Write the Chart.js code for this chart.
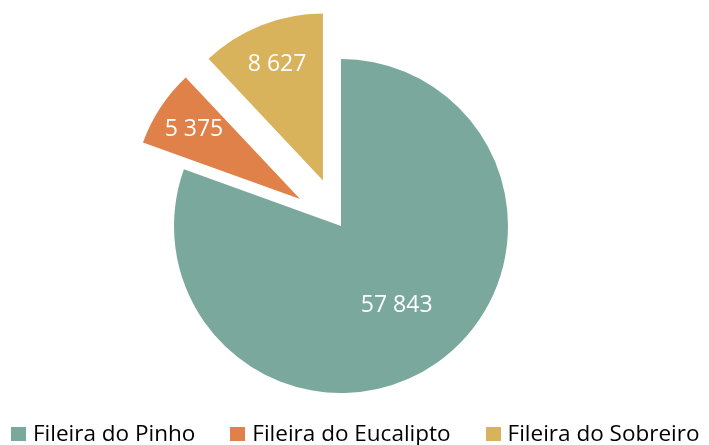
<!DOCTYPE html>
<html lang="pt">
<head>
<meta charset="utf-8">
<script src="https://cdn.jsdelivr.net/npm/chart.js@4.4.1/dist/chart.umd.min.js"></script>
<style>
  body { margin: 0; background: #fff; }
  #wrap { position: relative; width: 709px; height: 445px; }
  #legenda {
    position: absolute; left: 11px; top: 422px; height: 23px;
    display: flex; align-items: center; gap: 35px;
    font-family: "Open Sans", sans-serif; font-size: 22.5px; line-height: 1; color: #000;
  }
  .item { display: flex; align-items: center; white-space: nowrap; }
  .caixa { width: 15px; height: 14px; margin-right: 7px; }
</style>
</head>
<body>
<div id="wrap">
  <canvas id="grafico" width="709" height="445"></canvas>
  <div id="legenda"></div>
</div>
<script>
// dados
const categorias = ['Fileira do Pinho', 'Fileira do Eucalipto', 'Fileira do Sobreiro'];
const valores = [57843, 5375, 8627];
const cores = ['#7BA89C', '#DF8148', '#D9B25C'];

// fatias destacadas (px) e posição dos rótulos (fração do raio)
const destaque = [0, 49, 49];
const posRotulo = [0.58, 0.76, 0.745];

function formatar(n) {
  return String(n).replace(/\B(?=(\d{3})+(?!\d))/g, ' ');
}

// desenha cada fatia deslocada ao longo do ângulo médio
const fatiasDestacadas = {
  id: 'fatiasDestacadas',
  beforeDatasetDraw(chart, args) {
    const ctx = chart.ctx;
    args.meta.data.forEach((arc, i) => {
      const meio = (arc.startAngle + arc.endAngle) / 2;
      ctx.save();
      ctx.translate(Math.cos(meio) * destaque[i], Math.sin(meio) * destaque[i]);
      arc.draw(ctx);
      ctx.restore();
    });
    return false;
  }
};

// rótulos de valor dentro das fatias
const rotulos = {
  id: 'rotulos',
  afterDatasetsDraw(chart) {
    const ctx = chart.ctx;
    const meta = chart.getDatasetMeta(0);
    ctx.save();
    ctx.font = '23px "Open Sans", sans-serif';
    ctx.fillStyle = '#fff';
    ctx.textAlign = 'center';
    ctx.textBaseline = 'middle';
    meta.data.forEach((arc, i) => {
      const meio = (arc.startAngle + arc.endAngle) / 2;
      const d = destaque[i] + arc.outerRadius * posRotulo[i];
      ctx.fillText(formatar(valores[i]), arc.x + Math.cos(meio) * d, arc.y + Math.sin(meio) * d);
    });
    ctx.restore();
  }
};

const grafico = new Chart(document.getElementById('grafico'), {
  type: 'pie',
  data: {
    labels: categorias,
    datasets: [{
      data: valores,
      backgroundColor: cores,
      borderWidth: 0,
      clip: false
    }]
  },
  options: {
    responsive: false,
    maintainAspectRatio: false,
    animation: false,
    events: [],
    radius: 167,
    layout: { padding: { left: 0, right: 27, top: 7, bottom: 0 } },
    plugins: {
      legend: { display: false },
      tooltip: { enabled: false }
    }
  },
  plugins: [fatiasDestacadas, rotulos]
});

// legenda em HTML construída a partir dos mesmos arrays
const legenda = document.getElementById('legenda');
categorias.forEach((nome, i) => {
  const item = document.createElement('div');
  item.className = 'item';
  item.innerHTML = `<span class="caixa" style="background:${cores[i]}"></span><span>${nome}</span>`;
  legenda.appendChild(item);
});
</script>
</body>
</html>
